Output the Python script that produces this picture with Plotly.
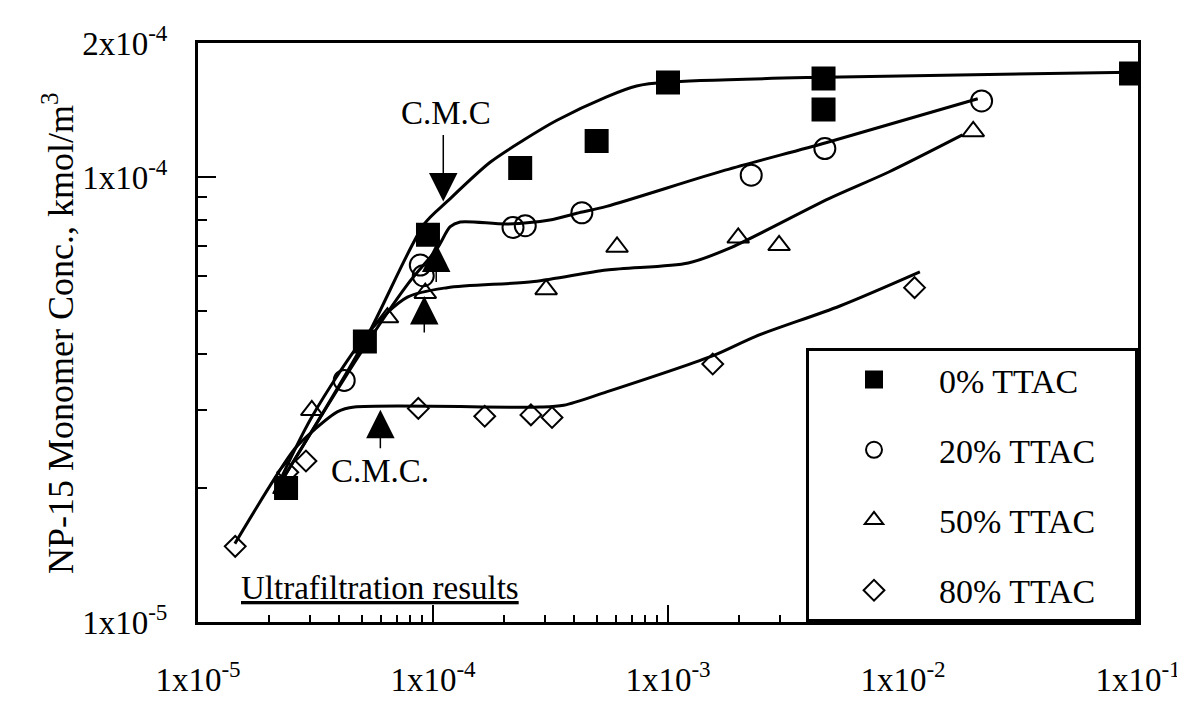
import math
import plotly.graph_objects as go

# ---------------- data ----------------
series_names = ["0% TTAC", "20% TTAC", "50% TTAC", "80% TTAC"]

x0 = [2.37e-5, 5.13e-5, 9.52e-5, 2.35e-4, 4.97e-4, 1.0e-3, 4.59e-3, 4.59e-3, 9.34e-2]
y0 = [2.00e-5, 4.27e-5, 7.42e-5, 1.047e-4, 1.204e-4, 1.631e-4, 1.665e-4, 1.418e-4, 1.707e-4]

x20 = [4.19e-5, 8.83e-5, 9.09e-5, 2.19e-4, 2.47e-4, 4.30e-4, 2.26e-3, 4.65e-3, 2.16e-2]
y20 = [3.49e-5, 6.34e-5, 6.00e-5, 7.70e-5, 7.77e-5, 8.31e-5, 1.009e-4, 1.158e-4, 1.482e-4]

x50 = [3.05e-5, 6.40e-5, 9.27e-5, 3.03e-4, 6.07e-4, 1.99e-3, 2.97e-3, 1.99e-2]
y50 = [2.99e-5, 4.83e-5, 5.48e-5, 5.59e-5, 6.96e-5, 7.30e-5, 7.02e-5, 1.266e-4]

x80 = [1.44e-5, 2.41e-5, 2.88e-5, 8.66e-5, 1.66e-4, 2.61e-4, 3.21e-4, 1.55e-3, 1.12e-2]
y80 = [1.479e-5, 2.17e-5, 2.30e-5, 3.02e-5, 2.90e-5, 2.92e-5, 2.88e-5, 3.80e-5, 5.64e-5]

# fitted curves drawn through the data
fx0 = [2.10e-5, 5.11e-5, 9.18e-5, 1.149e-4, 1.75e-4, 2.44e-4, 3.37e-4, 5.48e-4, 7.35e-4, 9.95e-4, 4.70e-3, 9.34e-2]
fy0 = [1.94e-5, 4.27e-5, 7.84e-5, 8.81e-5, 1.079e-4, 1.212e-4, 1.341e-4, 1.514e-4, 1.601e-4, 1.634e-4, 1.676e-4, 1.719e-4]
fx20 = [2.10e-5, 4.77e-5, 7.78e-5, 1.042e-4, 1.184e-4, 1.305e-4, 2.07e-4, 3.14e-4, 4.09e-4, 5.48e-4, 1.75e-3, 4.70e-3, 2.08e-2]
fy20 = [1.94e-5, 3.92e-5, 5.73e-5, 6.91e-5, 7.73e-5, 7.92e-5, 7.84e-5, 8.00e-5, 8.29e-5, 8.59e-5, 1.036e-4, 1.194e-4, 1.499e-4]
fx50 = [2.10e-5, 3.05e-5, 5.26e-5, 7.78e-5, 1.149e-4, 2.69e-4, 5.48e-4, 1.22e-3, 1.82e-3, 4.84e-3, 8.70e-3, 1.79e-2]
fy50 = [1.94e-5, 2.89e-5, 4.45e-5, 5.37e-5, 5.64e-5, 5.82e-5, 6.18e-5, 6.41e-5, 6.91e-5, 8.94e-5, 1.026e-4, 1.243e-4]
fx80 = [1.435e-5, 2.58e-5, 3.14e-5, 3.93e-5, 4.63e-5, 2.85e-4, 3.60e-4, 5.48e-4, 1.575e-3, 2.35e-3, 5.39e-3, 1.18e-2]
fy80 = [1.50e-5, 2.45e-5, 2.71e-5, 2.97e-5, 3.04e-5, 3.04e-5, 3.07e-5, 3.29e-5, 3.98e-5, 4.38e-5, 5.13e-5, 6.12e-5]

# C.M.C. arrow tips (data coords) and tail offsets (px)
cmc_x = [1.106e-4, 1.032e-4, 9.18e-5, 5.97e-5]
cmc_y = [8.81e-5, 7.09e-5, 5.40e-5, 3.00e-5]
cmc_tail = [-68, 40, 38, 40]

x_tickvals = [1e-5, 1e-4, 1e-3, 1e-2, 1e-1]
x_ticktext = ["1x10<sup>-5</sup>", "1x10<sup>-4</sup>", "1x10<sup>-3</sup>",
              "1x10<sup>-2</sup>", "1x10<sup>-1</sup>"]
y_tickvals = [1e-5, 1e-4, 2e-4]
y_ticktext = ["1x10<sup>-5</sup>", "1x10<sup>-4</sup>", "2x10<sup>-4</sup>"]

FONT = "Liberation Serif, Times New Roman, serif"

fig = go.Figure()
for fx, fy in [(fx0, fy0), (fx20, fy20), (fx50, fy50), (fx80, fy80)]:
    fig.add_trace(go.Scatter(x=fx, y=fy, mode="lines",
                             line=dict(color="black", width=3, shape="spline", smoothing=0.8),
                             showlegend=False, hoverinfo="skip"))

symbols = ["square", "circle-open", "triangle-up-open", "diamond-open"]
sizes = [22, 21, 19, 16]
pad = "\u00a0" * 4
for i, (xs, ys) in enumerate([(x0, y0), (x20, y20), (x50, y50), (x80, y80)]):
    fig.add_trace(go.Scatter(x=xs, y=ys, mode="markers", name=series_names[i] + pad,
                             legendgroup="g%d" % i,
                             marker=dict(symbol=symbols[i], size=sizes[i], color="black",
                                         line=dict(color="black", width=2))))

annotations = []
for ax_, ay_, t in zip(cmc_x, cmc_y, cmc_tail):
    annotations.append(dict(x=math.log10(ax_), y=math.log10(ay_), xref="x", yref="y",
                            showarrow=True, ax=0, ay=t, arrowhead=2, arrowsize=3.8,
                            arrowwidth=1.5, arrowcolor="black", text=""))
annotations += [
    dict(x=math.log10(1.138e-4), y=math.log10(1.39e-4), xref="x", yref="y", text="C.M.C",
         showarrow=False, font=dict(family=FONT, size=33, color="black")),
    dict(x=math.log10(5.97e-5), y=math.log10(2.18e-5), xref="x", yref="y", text="C.M.C.",
         showarrow=False, font=dict(family=FONT, size=33, color="black")),
    dict(x=math.log10(5.92e-5), y=math.log10(1.19e-5), xref="x", yref="y",
         text="<u>Ultrafiltration results</u>",
         showarrow=False, font=dict(family=FONT, size=33, color="black")),
    dict(x=-0.1485, y=0.5, xref="paper", yref="paper", xanchor="center", yanchor="middle",
         textangle=-90, text="NP-15 Monomer Conc., kmol/m<sup>3</sup>", showarrow=False,
         font=dict(family=FONT, size=36, color="black")),
]

minor_x = [m * 10 ** e for e in range(-5, -1) for m in range(2, 10)]
minor_y = [m * 1e-5 for m in range(2, 10)]

fig.update_layout(
    width=1185, height=702,
    margin=dict(l=190, r=52, t=28, b=82),
    paper_bgcolor="white", plot_bgcolor="white",
    font=dict(family=FONT, size=33, color="black"),
    showlegend=True,
    legend=dict(x=1, xanchor="right", y=0, yanchor="bottom",
                bgcolor="white", bordercolor="black", borderwidth=3,
                font=dict(family=FONT, size=34, color="black"),
                tracegroupgap=23, itemwidth=120),
    annotations=annotations,
    xaxis=dict(type="log", range=[-5, -1], tickmode="array", tickvals=x_tickvals,
               ticktext=x_ticktext, ticks="inside", ticklen=17, tickwidth=2,
               tickcolor="black", showline=True, linewidth=3, linecolor="black",
               mirror=True, showgrid=False, zeroline=False, ticklabelstandoff=26,
               tickfont=dict(family=FONT, size=33, color="black"),
               minor=dict(tickvals=minor_x, ticks="inside", ticklen=7, tickwidth=1.5,
                          tickcolor="black", showgrid=False)),
    yaxis=dict(type="log", range=[-5, math.log10(2e-4)], tickmode="array",
               tickvals=y_tickvals, ticktext=y_ticktext, ticks="inside", ticklen=18,
               tickwidth=2, tickcolor="black", showline=True, linewidth=3,
               linecolor="black", mirror=True, showgrid=False, zeroline=False,
               ticklabelstandoff=21,
               tickfont=dict(family=FONT, size=33, color="black"),
               minor=dict(tickvals=minor_y, ticks="inside", ticklen=9, tickwidth=1.5,
                          tickcolor="black", showgrid=False)),
)
fig.write_html("out.html")
